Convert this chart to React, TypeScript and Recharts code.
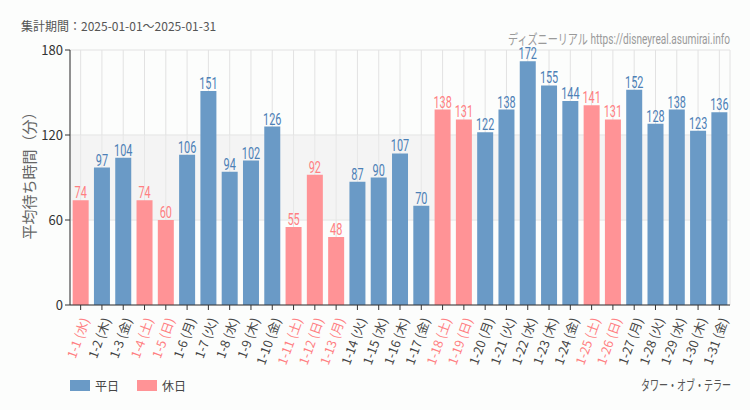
import { BarChart, Bar, XAxis, YAxis, CartesianGrid, Cell, LabelList, ReferenceArea } from "recharts";

const days = [
  "1-1", "1-2", "1-3", "1-4", "1-5", "1-6", "1-7", "1-8", "1-9", "1-10",
  "1-11", "1-12", "1-13", "1-14", "1-15", "1-16", "1-17", "1-18", "1-19", "1-20",
  "1-21", "1-22", "1-23", "1-24", "1-25", "1-26", "1-27", "1-28", "1-29", "1-30", "1-31",
];
const weekdays = [
  "水", "木", "金", "土", "日", "月", "火", "水", "木", "金",
  "土", "日", "月", "火", "水", "木", "金", "土", "日", "月",
  "火", "水", "木", "金", "土", "日", "月", "火", "水", "木", "金",
];
const holidays = ["1-1", "1-4", "1-5", "1-11", "1-12", "1-13", "1-18", "1-19", "1-25", "1-26"];
const waits = [
  74, 97, 104, 74, 60, 106, 151, 94, 102, 126,
  55, 92, 48, 87, 90, 107, 70, 138, 131, 122,
  138, 172, 155, 144, 141, 131, 152, 128, 138, 123, 136,
];
const yTicks = [0, 60, 120, 180];

const data = days.map((d, i) => ({
  label: `${d} (${weekdays[i]})`,
  wait: waits[i],
  holiday: holidays.includes(d),
}));

const BLUE = "#6a9ac6";
const PINK = "#ff9396";
const BLUE_TEXT = "#4c80b6";
const PINK_TEXT = "#ff7f82";
const NARROW = 'Roboto, "Noto Sans CJK JP", sans-serif';
const SANS = '"Noto Sans CJK JP", "Noto Sans", sans-serif';

const XTick = (props: any) => {
  const { x, y, payload, index } = props;
  const hol = data[index]?.holiday;
  return (
    <text
      x={x + 4}
      y={y + 6}
      transform={`rotate(-70 ${x + 4} ${y + 6})`}
      textAnchor="end"
      dominantBaseline="central"
      fontSize={12.5}
      fontFamily={SANS}
      fill={hol ? PINK_TEXT : "#444"}
    >
      {payload.value}
    </text>
  );
};

// condensed value label above each bar
const TopLabel = (props: any) => {
  const { x, y, width, value, index } = props;
  const hol = data[index]?.holiday;
  const cx = x + width / 2;
  return (
    <text
      x={0}
      y={0}
      transform={`translate(${cx} ${y - 2}) scale(0.68 1)`}
      textAnchor="middle"
      fontSize={16}
      fontFamily={NARROW}
      fill={hol ? PINK_TEXT : BLUE_TEXT}
    >
      {value}
    </text>
  );
};

export default function App() {
  return (
    <div style={{ position: "absolute", left: 0, top: 0, width: 750, height: 410, background: "#fcfdfc", fontFamily: SANS }}>
      <div style={{ position: "absolute", left: 21, top: 17, fontSize: 12, color: "#555" }}>
        集計期間：2025-01-01～2025-01-31
      </div>
      <div
        style={{
          position: "absolute",
          left: 28,
          top: 172,
          transform: "translate(-50%, -50%) rotate(-90deg)",
          fontSize: 15,
          color: "#666",
          whiteSpace: "nowrap",
        }}
      >
        平均待ち時間（分）
      </div>
      <BarChart
        width={750}
        height={410}
        data={data}
        margin={{ top: 50, right: 20, left: 30, bottom: 75 }}
        barCategoryGap="12.5%"
        style={{ position: "absolute", left: 0, top: 0 }}
      >
        <ReferenceArea y1={60} y2={120} fill="#ebebeb" fillOpacity={0.5} stroke="none" />
        <CartesianGrid stroke="#e2e2e2" />
        <XAxis
          dataKey="label"
          interval={0}
          height={30}
          tick={<XTick />}
          tickSize={5}
          axisLine={{ stroke: "#333" }}
          tickLine={{ stroke: "#333" }}
        />
        <YAxis
          width={40}
          domain={[0, 180]}
          ticks={yTicks}
          tickSize={5}
          axisLine={{ stroke: "#333" }}
          tickLine={{ stroke: "#333" }}
          tick={{ fontSize: 13, fill: "#333", fontFamily: SANS }}
        />
        <Bar dataKey="wait" isAnimationActive={false}>
          {data.map((d, i) => (
            <Cell key={i} fill={d.holiday ? PINK : BLUE} />
          ))}
          <LabelList dataKey="wait" content={<TopLabel />} />
        </Bar>
      </BarChart>
      <svg width={750} height={410} style={{ position: "absolute", left: 0, top: 0, pointerEvents: "none" }}>
        <text x={730} y={44} textAnchor="end" fontSize={14} fill="#9a9a9a" fontFamily={NARROW} textLength={222} lengthAdjust="spacingAndGlyphs">
          ディズニーリアル https://disneyreal.asumirai.info
        </text>
        <text x={731} y={390} textAnchor="end" fontSize={14} fill="#555" fontFamily={NARROW} textLength={90} lengthAdjust="spacingAndGlyphs">
          タワー・オブ・テラー
        </text>
      </svg>
      <div style={{ position: "absolute", left: 70, top: 380, width: 20, height: 11, background: BLUE }} />
      <div style={{ position: "absolute", left: 95, top: 377, fontSize: 12, color: "#444" }}>平日</div>
      <div style={{ position: "absolute", left: 137, top: 380, width: 20, height: 11, background: PINK }} />
      <div style={{ position: "absolute", left: 162, top: 377, fontSize: 12, color: "#444" }}>休日</div>
    </div>
  );
}
